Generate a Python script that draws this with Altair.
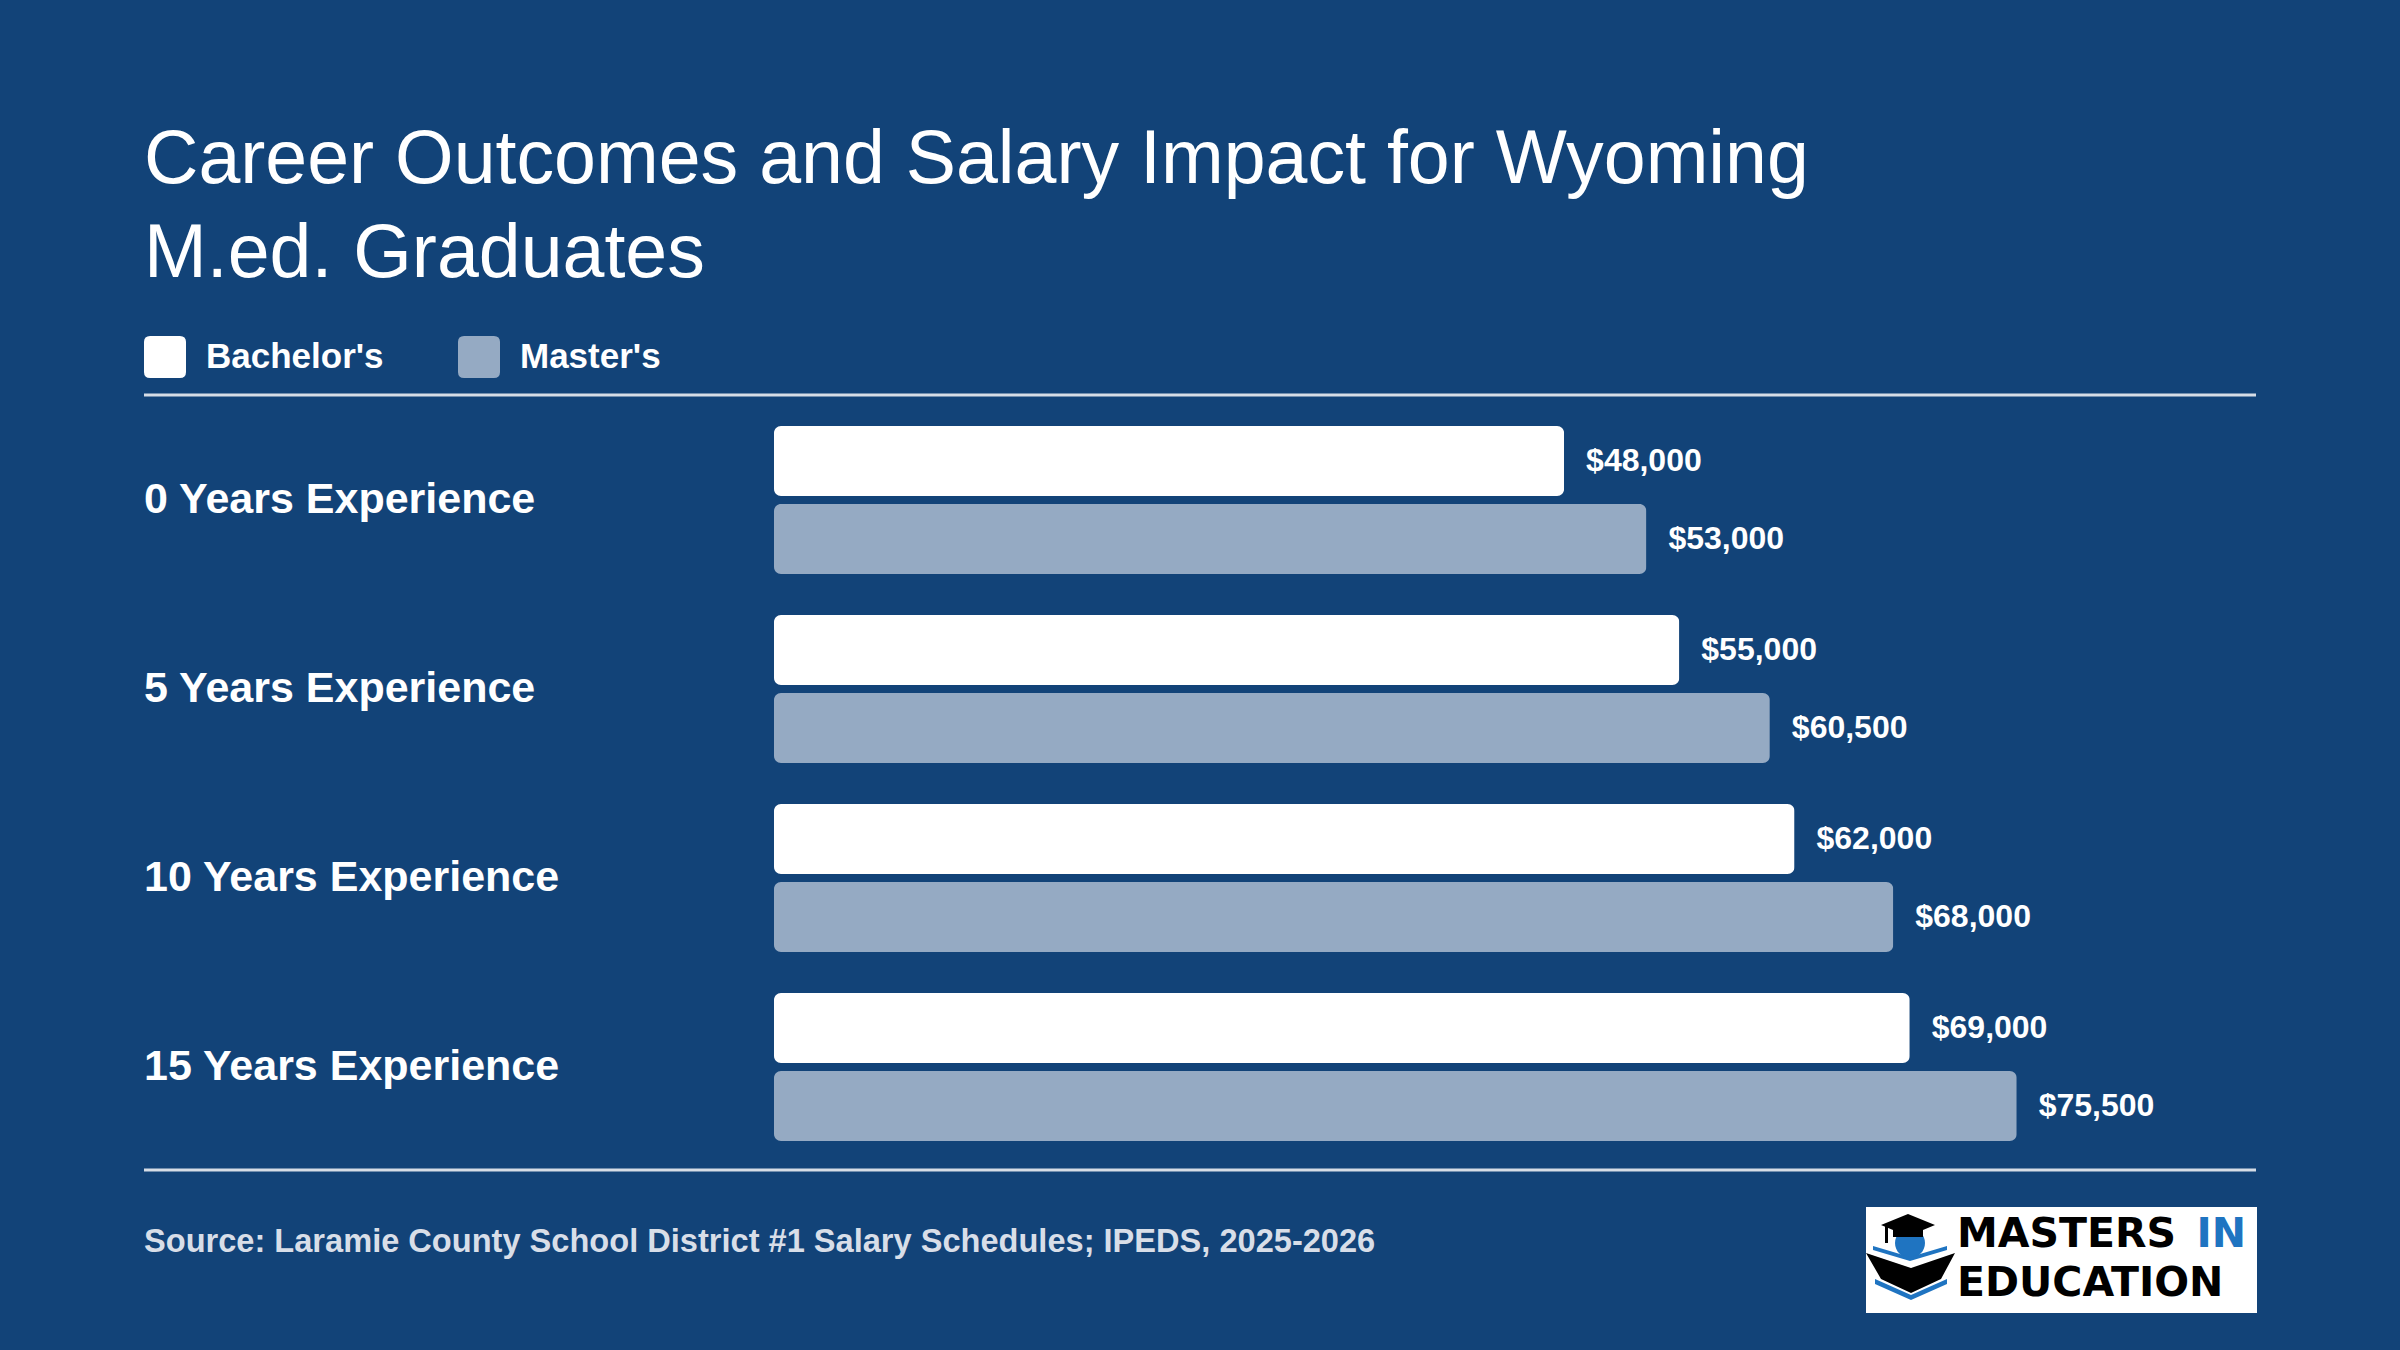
import altair as alt
import pandas as pd

# ---------------- data ----------------
CATEGORIES = ["0 Years Experience", "5 Years Experience", "10 Years Experience", "15 Years Experience"]
BACHELORS = [48000, 55000, 62000, 69000]
MASTERS = [53000, 60500, 68000, 75500]
DEGREES = ["Bachelor's", "Master's"]
COLORS = ["#ffffff", "#95aac3"]
TITLE_LINES = ["Career Outcomes and Salary Impact for Wyoming", "M.ed. Graduates"]
SOURCE = "Source: Laramie County School District #1 Salary Schedules; IPEDS, 2025-2026"
LOGO_WORD1 = "MASTERS"
LOGO_WORD2 = "IN"
LOGO_WORD3 = "EDUCATION"

BG = "#124378"
LINE = "#d6dde6"
FONT = "Liberation Sans"

rows = []
for cat, b, m in zip(CATEGORIES, BACHELORS, MASTERS):
    rows.append({"category": cat, "degree": DEGREES[0], "salary": b})
    rows.append({"category": cat, "degree": DEGREES[1], "salary": m})
df = pd.DataFrame(rows)
one = pd.DataFrame({"k": [0]})

y_scale = alt.Scale(domain=CATEGORIES, range=[405.5, 1161.5], paddingInner=0.217, paddingOuter=0.1085)
x_scale = alt.Scale(domain=[0, 100000], range=[774, 2420], nice=False, zero=True)
yoff_scale = alt.Scale(domain=DEGREES, paddingInner=0.1026, paddingOuter=0)

ROUND_SQ = ("M-0.71,-1 L0.71,-1 Q1,-1 1,-0.71 L1,0.71 Q1,1 0.71,1 L-0.71,1 "
            "Q-1,1 -1,0.71 L-1,-0.71 Q-1,-1 -0.71,-1 Z")

base = alt.Chart(df)

bars = base.mark_bar(cornerRadius=7).encode(
    x=alt.X("salary:Q", scale=x_scale, axis=None),
    y=alt.Y("category:N", scale=y_scale, axis=None),
    yOffset=alt.YOffset("degree:N", scale=yoff_scale),
    color=alt.Color(
        "degree:N",
        scale=alt.Scale(domain=DEGREES, range=COLORS),
        legend=alt.Legend(
            title=None, orient="none", legendX=144, legendY=336, direction="horizontal",
            symbolType=ROUND_SQ, symbolSize=1764, symbolStrokeWidth=0, symbolOpacity=1,
            labelFont=FONT, labelFontSize=35, labelFontWeight="bold", labelColor="#ffffff",
            labelOffset=20, columnPadding=74, padding=0, labelLimit=400,
        ),
    ),
)

values = base.mark_text(
    align="left", baseline="middle", dx=22, font=FONT, fontSize=32, fontWeight="bold", color="#ffffff"
).encode(
    x=alt.X("salary:Q", scale=x_scale, axis=None),
    y=alt.Y("category:N", scale=y_scale, axis=None),
    yOffset=alt.YOffset("degree:N", scale=yoff_scale),
    text=alt.Text("salary:Q", format="$,.0f"),
)

cats = alt.Chart(pd.DataFrame({"category": CATEGORIES})).mark_text(
    align="left", baseline="middle", font=FONT, fontSize=43, fontWeight="bold", color="#ffffff"
).encode(
    x=alt.value(144),
    y=alt.Y("category:N", scale=y_scale, axis=None),
    text="category:N",
)

title = alt.Chart(one).mark_text(
    align="left", baseline="alphabetic", font=FONT, fontSize=75.3, lineHeight=94, color="#ffffff"
).encode(x=alt.value(144), y=alt.value(183), text=alt.value(TITLE_LINES))

rule_top = alt.Chart(one).mark_rule(color=LINE, strokeWidth=3).encode(
    x=alt.value(144), x2=alt.value(2256), y=alt.value(395))
rule_bot = alt.Chart(one).mark_rule(color=LINE, strokeWidth=3).encode(
    x=alt.value(144), x2=alt.value(2256), y=alt.value(1170))

source = alt.Chart(one).mark_text(
    align="left", baseline="alphabetic", font=FONT, fontSize=32.6, fontWeight="bold", color="#d8dee8"
).encode(x=alt.value(144), y=alt.value(1252), text=alt.value(SOURCE))

# ---------- logo ----------
logo_bg = alt.Chart(one).mark_rect(color="#ffffff").encode(
    x=alt.value(1866), x2=alt.value(2257), y=alt.value(1207), y2=alt.value(1313))

BLUE = "#1f74c1"
def shape(path, color):
    return alt.Chart(one).mark_point(
        shape=path, size=4, filled=True, color=color, opacity=1, strokeWidth=0
    ).encode(x=alt.value(1910), y=alt.value(1260))

head = shape("M-15,-17 A15,15 0 1,0 15,-17 A15,15 0 1,0 -15,-17 Z", BLUE)
blue_top = shape("M-37,-14 L0,-3 L37,-14 L37,-10 L0,1 L-37,-10 Z", BLUE)
blue_bot = shape("M-35,19 L1,35 L37,19 L37,24 L1,40 L-35,24 Z", BLUE)
book = shape("M-44,-7 L1,8 L45,-7 L31,19 L1,33 L-29,19 Z", "#000000")
cap = shape("M-29,-35 L-2,-46 L25,-35 L13,-30 L13,-23 L-17,-23 L-17,-30 Z", "#000000")
tassel = shape("M-25,-34 L-22,-34 L-22,-17 L-25,-17 Z", "#000000")

LOGO_FONT = "DejaVu Sans"
LOGO_FS = 41
logo_t1 = alt.Chart(one).mark_text(
    align="left", baseline="alphabetic", font=LOGO_FONT, fontSize=LOGO_FS, fontWeight="bold", color="#000000"
).encode(x=alt.value(1957), y=alt.value(1247), text=alt.value(LOGO_WORD1))
logo_t2 = alt.Chart(one).mark_text(
    align="right", baseline="alphabetic", font=LOGO_FONT, fontSize=LOGO_FS, fontWeight="bold", color=BLUE
).encode(x=alt.value(2246), y=alt.value(1247), text=alt.value(LOGO_WORD2))
logo_t3 = alt.Chart(one).mark_text(
    align="left", baseline="alphabetic", font=LOGO_FONT, fontSize=LOGO_FS, fontWeight="bold", color="#000000"
).encode(x=alt.value(1957), y=alt.value(1296), text=alt.value(LOGO_WORD3))

chart = alt.layer(
    rule_top, rule_bot, bars, values, cats, title, source,
    logo_bg, head, blue_top, blue_bot, book, cap, tassel, logo_t1, logo_t2, logo_t3,
).resolve_scale(color="independent").properties(
    width=2400, height=1350, padding=0, background=BG,
    autosize=alt.AutoSizeParams(type="none"),
).configure_view(strokeWidth=0)

chart.save("out.html", embed_options={"renderer": "svg", "actions": False})
